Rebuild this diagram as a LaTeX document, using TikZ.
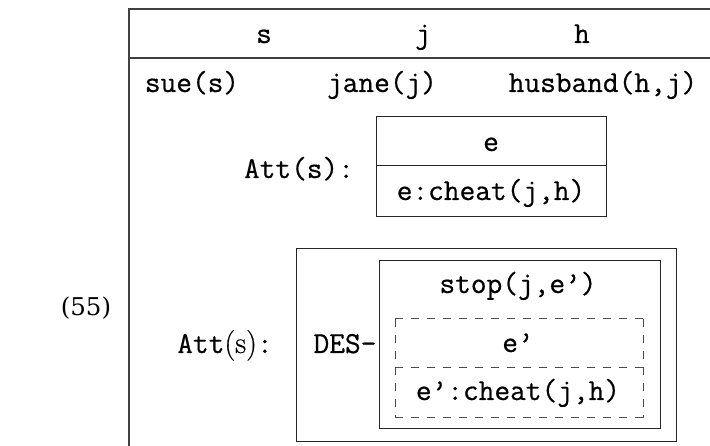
\documentclass[tikz,border=0pt]{standalone}
\usepackage{fontspec}
\newfontfamily\exnumfont{DejaVu Serif}
\newfontfamily\ttheavy{Latin Modern Mono}[FakeBold=0.6]
\newfontfamily\rmheavy{Latin Modern Roman}[FakeBold=0.6]
\usetikzlibrary{calc}
\begin{document}
\begin{tikzpicture}[x=1pt,y=-1pt,
  every node/.style={inner sep=0pt, outer sep=0pt, font=\fontsize{30.5}{36}\selectfont\ttheavy},
  frame/.style={draw=black!75, line width=1.2pt},
  boxrule/.style={draw=black!85, line width=1pt},
  solidbox/.style={rectangle, boxrule},
  hollow/.style={rectangle},
  dashrule/.style={draw=black!70, line width=1pt, dash pattern=on 8pt off 8pt},
  txt/.style={anchor=base}]
\useasboundingbox (0,0) rectangle (710,446);

% outer frame of the structure (open to the right and below)
\coordinate (ftl) at (129,9);
\coordinate (ftr) at (710,9);
\coordinate (fbl) at (129,446);
\coordinate (fsl) at (129,58);
\coordinate (fsr) at (710,58);
\draw[frame] (ftr) -- (ftl) -- (fbl);
\draw[frame] (fsl) -- (fsr);

% example number
\node[txt, font=\fontsize{24.5}{30}\selectfont\exnumfont] (num) at (86,316) {(55)};

% universe
\node[txt] (rs) at (264,43) {s};
\node[txt] (rj) at (423,43) {j};
\node[txt] (rh) at (582,43) {h};

% conditions
\node[txt] (csue) at (192,92) {sue(s)};
\node[txt] (cjane) at (382,92) {jane(j)};
\node[txt] (chus) at (603,92) {husband(h,j)};

% first attitude box
\node[solidbox, minimum width=230pt, minimum height=100pt] (kone) at (491,167) {};
\draw[boxrule] ($(kone.north west)!0.49!(kone.south west)$) -- ($(kone.north east)!0.49!(kone.south east)$);
\node[txt] (kone-u) at (491,151) {e};
\node[txt] (kone-c) at (491,200) {e:cheat(j,h)};
\node[txt] (attone) at (299,178) {Att(s):};

% second attitude box
\node[solidbox, minimum width=380pt, minimum height=192pt] (des) at (486,345) {};
\node[txt] (attwo) at (225,353) {Att{\rmheavy(s)}:};
\node[txt] (deslbl) at (345,353) {DES-};

\node[solidbox, minimum width=281pt, minimum height=168pt] (stopbox) at (519.5,345) {};
\node[txt] (stoplbl) at (518,293) {stop(j,e’)};

% dashed sub-box
\node[hollow, minimum width=248pt, minimum height=99pt] (dbox) at (519,368.5) {};
\coordinate (dsl) at ($(dbox.north west)!0.485!(dbox.south west)$);
\coordinate (dsr) at ($(dbox.north east)!0.485!(dbox.south east)$);
\draw[dashrule] (dbox.north west) -- (dbox.north east);
\draw[dashrule] (dbox.south west) -- (dbox.south east);
\draw[dashrule] (dbox.north west) -- (dbox.south west);
\draw[dashrule] (dbox.north east) -- (dbox.south east);
\draw[dashrule] (dsl) -- (dsr);
\node[txt] (dbox-u) at (518,352) {e’};
\node[txt] (dbox-c) at (518,400) {e’:cheat(j,h)};
\end{tikzpicture}
\end{document}
